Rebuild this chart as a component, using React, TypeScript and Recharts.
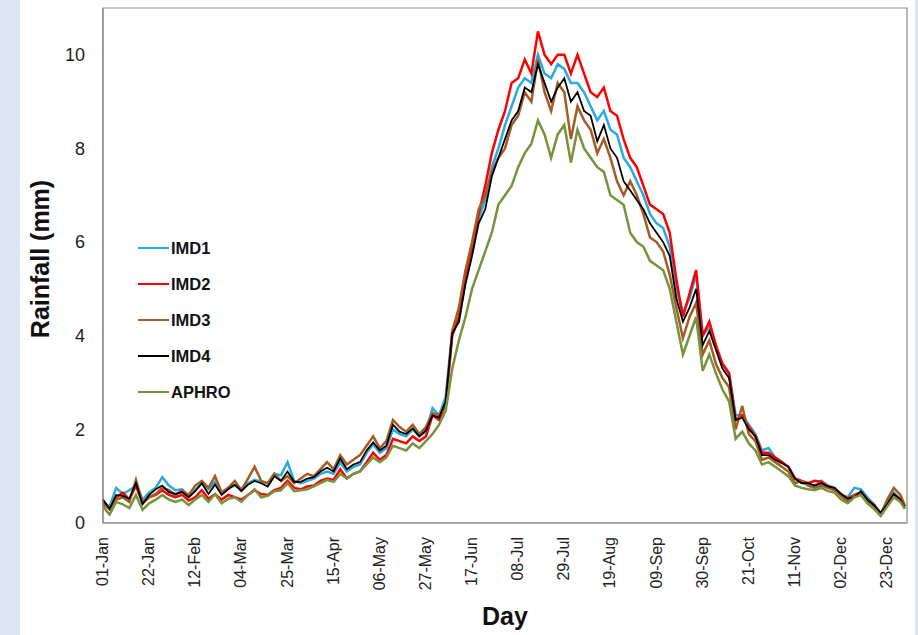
import { LineChart, Line, XAxis, YAxis, ReferenceArea, Label } from "recharts";

const FONT = "Arial, 'Liberation Sans', sans-serif";

// day of year (leap year), sampled every 3 days
const days = [
  1, 4, 7, 10, 13, 16, 19, 22, 25, 28,
  31, 34, 37, 40, 43, 46, 49, 52, 55, 58,
  61, 64, 67, 70, 73, 76, 79, 82, 85, 88,
  91, 94, 97, 100, 103, 106, 109, 112, 115, 118,
  121, 124, 127, 130, 133, 136, 139, 142, 145, 148,
  151, 154, 157, 160, 163, 166, 169, 172, 175, 178,
  181, 184, 187, 190, 193, 196, 199, 202, 205, 208,
  211, 214, 217, 220, 223, 226, 229, 232, 235, 238,
  241, 244, 247, 250, 253, 256, 259, 262, 265, 268,
  271, 274, 277, 280, 283, 286, 289, 292, 295, 298,
  301, 304, 307, 310, 313, 316, 319, 322, 325, 328,
  331, 334, 337, 340, 343, 346, 349, 352, 355, 358,
  361, 364, 366,
];

const imd1 = [
  0.45, 0.35, 0.75, 0.62, 0.7, 0.8, 0.5, 0.65, 0.75, 0.98,
  0.8, 0.7, 0.72, 0.55, 0.7, 0.85, 0.72, 0.88, 0.65, 0.75,
  0.8, 0.72, 0.85, 0.92, 0.88, 0.85, 1.05, 1.02, 1.3, 0.9,
  0.85, 0.9, 0.95, 1.05, 1.1, 1.05, 1.3, 1.1, 1.2, 1.25,
  1.5, 1.68, 1.5, 1.6, 2.0, 1.9, 1.85, 2.0, 1.85, 1.95,
  2.45, 2.3, 2.7, 4.1, 4.3, 5.2, 5.8, 6.5, 6.9, 7.6,
  8.0, 8.5, 8.9, 9.3, 9.5, 9.4, 10.0, 9.6, 9.5, 9.8,
  9.7, 9.4, 9.4, 9.2, 8.9, 8.6, 8.8, 8.4, 8.3, 7.8,
  7.6, 7.3, 7.0, 6.6, 6.4, 6.3, 5.9, 5.0, 4.5, 4.8,
  5.3, 4.0, 4.2, 3.75, 3.4, 3.2, 2.3, 2.3, 2.1, 1.9,
  1.55, 1.6, 1.4, 1.3, 1.2, 0.95, 0.85, 0.82, 0.8, 0.9,
  0.8, 0.75, 0.6, 0.55, 0.75, 0.72, 0.55, 0.4, 0.2, 0.45,
  0.65, 0.5, 0.35,
];

const imd2 = [
  0.45, 0.3, 0.55, 0.65, 0.5, 0.8, 0.42, 0.55, 0.6, 0.7,
  0.6, 0.55, 0.6, 0.48, 0.55, 0.7, 0.52, 0.62, 0.5, 0.6,
  0.55, 0.5, 0.6, 0.7, 0.62, 0.6, 0.7, 0.75, 0.9, 0.75,
  0.72, 0.78, 0.8, 0.9, 0.95, 0.92, 1.15, 0.95, 1.05, 1.1,
  1.3, 1.5, 1.35, 1.45, 1.8, 1.75, 1.7, 1.85, 1.75, 1.85,
  2.3, 2.2, 2.55, 4.0, 4.4, 5.3, 5.9, 6.6, 7.2, 7.9,
  8.4, 8.8, 9.4, 9.5, 9.9, 9.6, 10.5, 10.0, 9.8, 10.0,
  10.0, 9.6, 10.0, 9.6, 9.2, 9.1, 9.3, 8.8, 8.7, 8.2,
  7.8, 7.6, 7.2, 6.8, 6.7, 6.6, 6.2, 5.2, 4.4, 4.9,
  5.4, 4.0, 4.3, 3.8, 3.4, 3.2, 2.2, 2.3, 2.05, 1.85,
  1.5, 1.5, 1.4, 1.3, 1.2, 0.95, 0.9, 0.85, 0.9, 0.88,
  0.78, 0.72, 0.62, 0.52, 0.6, 0.65, 0.5, 0.38, 0.2, 0.42,
  0.6, 0.52, 0.35,
];

const imd3 = [
  0.4, 0.3, 0.5, 0.55, 0.45, 0.92, 0.45, 0.55, 0.62, 0.75,
  0.7, 0.6, 0.7, 0.6, 0.8, 0.9, 0.75, 1.0, 0.65, 0.75,
  0.9, 0.7, 0.95, 1.2, 0.9, 0.85, 1.05, 0.9, 1.0, 0.85,
  0.95, 1.05, 1.0, 1.15, 1.3, 1.15, 1.45, 1.25, 1.35, 1.45,
  1.65, 1.85, 1.6, 1.75, 2.2, 2.05, 1.95, 2.1, 1.9, 2.05,
  2.35, 2.3, 2.5, 4.1, 4.6, 5.4, 6.0, 6.7, 7.0, 7.5,
  7.8, 8.0, 8.5, 8.7, 9.2, 9.0, 9.9, 9.2, 8.8, 9.4,
  9.2, 8.2, 8.9, 8.6, 8.4, 7.9, 8.2, 7.8, 7.3, 7.0,
  7.3, 7.0, 6.6, 6.1, 6.0, 5.8, 5.3, 4.6, 3.95, 4.4,
  4.7, 3.6, 3.9, 3.4, 3.1, 2.9, 2.0, 2.5, 1.9, 1.75,
  1.35, 1.4, 1.3, 1.2, 1.1, 0.85, 0.9, 0.8, 0.75, 0.8,
  0.75, 0.7, 0.58, 0.45, 0.6, 0.6, 0.45, 0.32, 0.18, 0.5,
  0.75, 0.6, 0.38,
];

const imd4 = [
  0.5, 0.3, 0.6, 0.58, 0.52, 0.85, 0.4, 0.6, 0.72, 0.8,
  0.66, 0.62, 0.66, 0.55, 0.68, 0.85, 0.62, 0.82, 0.6, 0.72,
  0.82, 0.68, 0.82, 0.9, 0.85, 0.78, 1.0, 0.9, 1.1, 0.88,
  0.88, 0.95, 0.98, 1.1, 1.18, 1.1, 1.38, 1.15, 1.25, 1.3,
  1.55, 1.72, 1.55, 1.65, 2.1, 1.95, 1.9, 2.02, 1.85, 1.98,
  2.3, 2.25, 2.6, 4.05, 4.3, 5.1, 5.7, 6.4, 6.7, 7.4,
  7.8, 8.2, 8.6, 8.8, 9.3, 9.2, 9.8, 9.4, 9.0, 9.3,
  9.5, 9.0, 9.2, 8.8, 8.7, 8.15, 8.5, 8.0, 7.8, 7.3,
  7.1, 6.9, 6.7, 6.4, 6.2, 6.0, 5.7, 4.8, 4.3, 4.6,
  5.0, 3.8, 4.1, 3.7, 3.3, 3.1, 2.2, 2.25, 2.0, 1.85,
  1.45, 1.45, 1.35, 1.28, 1.2, 0.95, 0.85, 0.85, 0.8, 0.85,
  0.78, 0.75, 0.62, 0.52, 0.55, 0.68, 0.5, 0.38, 0.22, 0.4,
  0.62, 0.5, 0.32,
];

const aphro = [
  0.35, 0.18, 0.45, 0.4, 0.32, 0.6, 0.28, 0.42, 0.5, 0.6,
  0.5, 0.45, 0.5, 0.38, 0.5, 0.6, 0.45, 0.62, 0.42, 0.52,
  0.55, 0.45, 0.6, 0.72, 0.55, 0.58, 0.68, 0.7, 0.85, 0.68,
  0.7, 0.72, 0.78, 0.85, 0.92, 0.88, 1.05, 0.95, 1.05, 1.1,
  1.25, 1.4, 1.3, 1.4, 1.65, 1.6, 1.55, 1.7, 1.6, 1.75,
  1.9, 2.1, 2.4, 3.3, 3.9, 4.4, 5.0, 5.4, 5.8, 6.2,
  6.8, 7.0, 7.2, 7.6, 7.9, 8.1, 8.6, 8.3, 7.8, 8.3,
  8.5, 7.7, 8.4, 8.0, 7.8, 7.6, 7.5, 7.0, 6.9, 6.8,
  6.2, 6.0, 5.9, 5.6, 5.5, 5.4, 5.0, 4.3, 3.6, 4.0,
  4.4, 3.25, 3.6, 3.2, 2.85, 2.6, 1.8, 1.95, 1.7, 1.55,
  1.25, 1.3, 1.2, 1.1, 1.0, 0.8, 0.75, 0.72, 0.7, 0.75,
  0.68, 0.65, 0.5, 0.42, 0.55, 0.6, 0.42, 0.3, 0.15, 0.35,
  0.55, 0.45, 0.3,
];

const tickDays = [1, 22, 43, 64, 85, 106, 127, 148, 169, 190, 211, 232, 253, 274, 295, 316, 337, 358];
const tickLabels = [
  "01-Jan", "22-Jan", "12-Feb", "04-Mar", "25-Mar", "15-Apr", "06-May", "27-May", "17-Jun",
  "08-Jul", "29-Jul", "19-Aug", "09-Sep", "30-Sep", "21-Oct", "11-Nov", "02-Dec", "23-Dec",
];
const yTicks = [0, 2, 4, 6, 8, 10];

const series = [
  { key: "IMD1", values: imd1, color: "#29abe2", width: 2.5 },
  { key: "IMD2", values: imd2, color: "#ff0000", width: 2.5 },
  { key: "IMD3", values: imd3, color: "#a65a24", width: 2.5 },
  { key: "IMD4", values: imd4, color: "#000000", width: 1.8 },
  { key: "APHRO", values: aphro, color: "#77933c", width: 2.5 },
];

const data = days.map((day, i) => {
  const row: Record<string, number> = { day };
  series.forEach((s) => {
    row[s.key] = s.values[i];
  });
  return row;
});

function DayTick({ x, y, payload }: any) {
  const idx = tickDays.indexOf(payload.value);
  return (
    <g transform={`translate(${x},${y})`}>
      <text
        transform="rotate(-90)"
        textAnchor="end"
        dy={5}
        fontSize={16}
        fontFamily={FONT}
        fill="#222"
      >
        {tickLabels[idx]}
      </text>
    </g>
  );
}

export default function App() {
  return (
    <div
      style={{
        position: "absolute",
        left: 0,
        top: 0,
        width: 918,
        height: 635,
        background: "#fff",
        overflow: "hidden",
      }}
    >
      <div style={{ position: "absolute", left: 0, top: 0, width: 20, height: 635, background: "#dce6f2" }} />
      <div style={{ position: "absolute", left: 915, top: 0, width: 3, height: 635, background: "#dce6f2" }} />
      <div style={{ position: "absolute", left: 0, top: 0 }}>
        <LineChart width={918} height={635} data={data} margin={{ top: 8, right: 11, left: 43, bottom: 0 }}>
          <ReferenceArea x1={1} x2={367} y1={0} y2={11} fill="none" stroke="#8c8c8c" strokeWidth={1.2} ifOverflow="visible" />
          <XAxis
            dataKey="day"
            type="number"
            domain={[1, 367]}
            ticks={tickDays}
            interval={0}
            height={112}
            tickLine={false}
            tickSize={0}
            tickMargin={14}
            axisLine={{ stroke: "#8c8c8c", strokeWidth: 1.2 }}
            tick={<DayTick />}
          >
            <Label
              content={() => (
                <text x={505} y={625} textAnchor="middle" fontSize={25} fontWeight="bold" fontFamily={FONT} fill="#111">
                  Day
                </text>
              )}
            />
          </XAxis>
          <YAxis
            type="number"
            domain={[0, 11]}
            ticks={yTicks}
            width={60}
            tickLine={false}
            tickSize={0}
            tickMargin={18}
            axisLine={{ stroke: "#8c8c8c", strokeWidth: 1.2 }}
            tick={{ fontSize: 18, fontFamily: FONT, fill: "#222" }}
          >
            <Label
              content={() => (
                <text
                  x={42}
                  y={259}
                  transform="rotate(-90, 42, 259)"
                  textAnchor="middle"
                  dominantBaseline="middle"
                  fontSize={25}
                  fontWeight="bold"
                  fontFamily={FONT}
                  fill="#111"
                >
                  Rainfall (mm)
                </text>
              )}
            />
          </YAxis>
          {series.map((s) => (
            <Line
              key={s.key}
              type="linear"
              dataKey={s.key}
              stroke={s.color}
              strokeWidth={s.width}
              dot={false}
              isAnimationActive={false}
            />
          ))}
        </LineChart>
      </div>
      <div style={{ position: "absolute", left: 138, top: 230, fontFamily: FONT }}>
        {series.map((s) => (
          <div key={s.key} style={{ display: "flex", alignItems: "center", height: 36 }}>
            <div style={{ width: 31, height: s.key === "IMD4" ? 1.6 : 2.6, background: s.color }} />
            <span style={{ marginLeft: 2, fontSize: 16.5, fontWeight: "bold", color: "#111" }}>{s.key}</span>
          </div>
        ))}
      </div>
    </div>
  );
}
